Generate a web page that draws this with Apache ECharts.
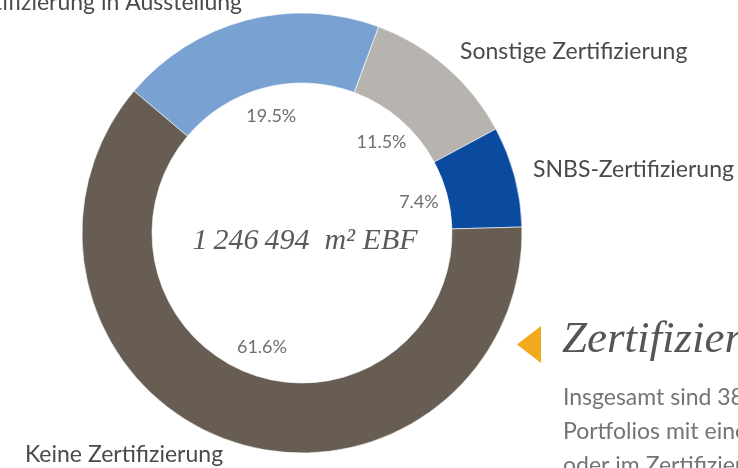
<!DOCTYPE html>
<html>
<head>
<meta charset="utf-8">
<script src="https://cdn.jsdelivr.net/npm/echarts@6/dist/echarts.min.js"></script>
<style>
html,body{margin:0;padding:0;background:#fff;}
#c{width:738px;height:468px;}
</style>
</head>
<body>
<div id="c"></div>
<script>
// Data
const categories = ['Zertifizierung in Ausstellung', 'Sonstige Zertifizierung', 'SNBS-Zertifizierung', 'Keine Zertifizierung'];
const shares = [19.5, 11.5, 7.4, 61.6];
const totalLabel = '1\u2009246\u2009494\u2002m\u00B2 EBF';
const headingText = 'Zertifizierung';
const bodyLines = ['Insgesamt sind 38.4 % des', 'Portfolios mit einem Zertifikat', 'oder im Zertifizierungsprozess'];

// Styles
const colors = ['#79a2d3', '#b7b4af', '#0a4a9f', '#675d52'];
const nameLabelPos = [
  {x: 242, y: 3, align: 'right'},
  {x: 460, y: 52, align: 'left'},
  {x: 533, y: 170, align: 'left'},
  {x: 25, y: 455, align: 'left'}
];

const chart = echarts.init(document.getElementById('c'), null, {renderer: 'canvas'});
const data = categories.map((n, i) => ({name: n, value: shares[i], itemStyle: {color: colors[i]}}));

chart.setOption({
  backgroundColor: '#ffffff',
  animation: false,
  series: [
    {
      type: 'pie',
      center: [302, 233],
      radius: [0, 236],
      startAngle: 139.8,
      silent: true,
      z: 1,
      data: categories.map((n, i) => ({name: n, value: shares[i]})),
      itemStyle: {color: 'rgba(0,0,0,0)', borderWidth: 0},
      label: {
        show: true,
        position: 'inside',
        formatter: p => p.value.toFixed(1) + '%',
        fontFamily: 'Lato',
        fontSize: 18,
        color: '#6e6e6e'
      },
      labelLine: {show: false},
      emphasis: {disabled: true}
    },
    {
      type: 'pie',
      center: [302, 233],
      radius: [150, 220],
      startAngle: 139.8,
      silent: true,
      z: 2,
      avoidLabelOverlap: false,
      data: data,
      itemStyle: {borderColor: '#ffffff', borderWidth: 0.6},
      label: {
        show: true,
        position: 'outside',
        formatter: '{b}',
        fontFamily: 'Lato',
        fontSize: 23,
        color: '#4a4a4a'
      },
      labelLine: {show: false},
      labelLayout: function (p) {
        const pos = nameLabelPos[p.dataIndex];
        return {x: pos.x, y: pos.y, align: pos.align, verticalAlign: 'middle'};
      },
      emphasis: {disabled: true}
    }
  ],
  graphic: [
    {
      type: 'text',
      x: 305, y: 241,
      style: {
        text: totalLabel,
        font: 'italic 30px "Liberation Serif", serif',
        fill: '#5a5a5a',
        align: 'center',
        verticalAlign: 'middle'
      }
    },
    {
      type: 'polygon',
      shape: {points: [[541, 326], [541, 363], [517, 344.5]]},
      style: {fill: '#f2a91c'}
    },
    {
      type: 'text',
      x: 562, y: 340,
      style: {
        text: headingText,
        font: 'italic 45px "Liberation Serif", serif',
        fill: '#555555',
        verticalAlign: 'middle'
      }
    },
    {
      type: 'text',
      x: 563, y: 398,
      style: {text: bodyLines[0], font: '23px Lato', fill: '#747474', verticalAlign: 'middle'}
    },
    {
      type: 'text',
      x: 563, y: 432,
      style: {text: bodyLines[1], font: '23px Lato', fill: '#747474', verticalAlign: 'middle'}
    },
    {
      type: 'text',
      x: 563, y: 466,
      style: {text: bodyLines[2], font: '23px Lato', fill: '#747474', verticalAlign: 'middle'}
    }
  ]
});
</script>
</body>
</html>
